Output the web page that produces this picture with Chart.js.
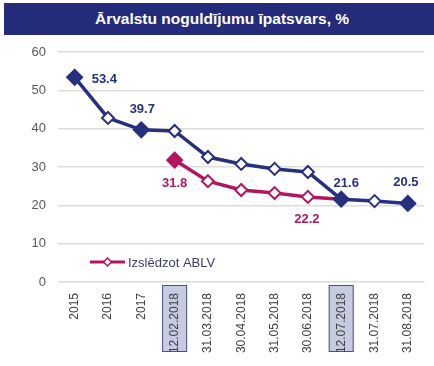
<!DOCTYPE html>
<html lang="lv">
<head>
    <meta charset="UTF-8">
    <title>Ārvalstu noguldījumu īpatsvars</title>
    <script src="https://cdn.jsdelivr.net/npm/chart.js"></script>
    <style>
        body { margin: 0; background: #ffffff; font-family: "Liberation Sans", Arial, sans-serif; }
        #wrap { position: relative; width: 434px; height: 366px; }
        #title {
            position: absolute; left: 4px; top: 3px; width: 430px; height: 32px;
            background: #242b7a; color: #ffffff; font-weight: bold; font-size: 15.5px;
            line-height: 32px; text-align: center; text-indent: 6px;
        }
        canvas { position: absolute; left: 0; top: 0; }
    </style>
</head>
<body>
<div id="wrap">
    <canvas id="chart" width="434" height="366"></canvas>
    <div id="title">Ārvalstu noguldījumu īpatsvars, %</div>
</div>
<script>
    const labels = ['2015', '2016', '2017', '12.02.2018', '31.03.2018', '30.04.2018',
        '31.05.2018', '30.06.2018', '12.07.2018', '31.07.2018', '31.08.2018'];
    const allDeposits = [53.4, 42.8, 39.7, 39.4, 32.6, 30.8, 29.5, 28.7, 21.6, 21.1, 20.5];
    const exclAblv = [null, null, null, 31.8, 26.3, 24.0, 23.2, 22.2, 21.6, null, null];
    const highlighted = [3, 8];
    const legendLabel = 'Izslēdzot ABLV';

    const NAVY = '#27307f';
    const MAGENTA = '#b0175f';

    // filled markers on the labelled points, hollow on the rest
    const navyFilled = [0, 2, 8, 10];
    const magentaFilled = [3];

    // value labels: [dataset, index, dx, dy, align]
    const valueLabels = [
        [0, 0, 17, 2, 'left'],
        [0, 2, 1, -20, 'center'],
        [0, 8, 5, -16, 'center'],
        [0, 10, -2, -21, 'center'],
        [1, 3, 0, 23, 'center'],
        [1, 7, -1, 23, 'center']
    ];

    const boxPlugin = {
        id: 'tickBoxes',
        beforeDraw(chart) {
            const ctx = chart.ctx;
            const x = chart.scales.x;
            ctx.save();
            highlighted.forEach(i => {
                const px = x.getPixelForValue(i);
                ctx.fillStyle = '#c7cbe2';
                ctx.strokeStyle = '#46528f';
                ctx.lineWidth = 1;
                ctx.fillRect(px - 12.5, 285, 25, 67);
                ctx.strokeRect(px - 12, 285.5, 24, 66);
            });
            ctx.restore();
        }
    };

    const labelPlugin = {
        id: 'valueLabels',
        afterDatasetsDraw(chart) {
            const ctx = chart.ctx;
            ctx.save();
            ctx.font = 'bold 13px "Liberation Sans", Arial, sans-serif';
            ctx.textBaseline = 'middle';
            valueLabels.forEach(([d, i, dx, dy, align]) => {
                const pt = chart.getDatasetMeta(d).data[i];
                const v = chart.data.datasets[d].data[i];
                ctx.fillStyle = d === 0 ? NAVY : MAGENTA;
                ctx.textAlign = align;
                ctx.fillText(v.toFixed(1), pt.x + dx, pt.y + dy);
            });

            // legend for the second series
            const lx = 90, ly = 262;
            ctx.strokeStyle = MAGENTA;
            ctx.lineWidth = 3;
            ctx.beginPath();
            ctx.moveTo(lx, ly);
            ctx.lineTo(lx + 35, ly);
            ctx.stroke();
            ctx.fillStyle = '#ffffff';
            ctx.lineWidth = 1.5;
            ctx.beginPath();
            ctx.moveTo(lx + 17.5, ly - 4);
            ctx.lineTo(lx + 21.5, ly);
            ctx.lineTo(lx + 17.5, ly + 4);
            ctx.lineTo(lx + 13.5, ly);
            ctx.closePath();
            ctx.fill();
            ctx.stroke();
            ctx.fillStyle = '#3a3f6a';
            ctx.font = '13px "Liberation Sans", Arial, sans-serif';
            ctx.textAlign = 'left';
            ctx.fillText(legendLabel, lx + 38, ly + 1);
            ctx.restore();
        }
    };

    const ctx = document.getElementById('chart').getContext('2d');
    new Chart(ctx, {
        type: 'line',
        data: {
            labels: labels,
            datasets: [
                {
                    label: 'Kopā',
                    data: allDeposits,
                    borderColor: NAVY,
                    borderWidth: 3.5,
                    pointStyle: 'rectRot',
                    pointRadius: allDeposits.map((v, i) => navyFilled.includes(i) ? 7.5 : 6),
                    pointBackgroundColor: allDeposits.map((v, i) => navyFilled.includes(i) ? NAVY : '#ffffff'),
                    pointBorderColor: NAVY,
                    pointBorderWidth: 2,
                    tension: 0,
                    order: 1
                },
                {
                    label: legendLabel,
                    data: exclAblv,
                    borderColor: MAGENTA,
                    borderWidth: 3.5,
                    pointStyle: 'rectRot',
                    pointRadius: exclAblv.map((v, i) => magentaFilled.includes(i) ? 7.5 : (i === 8 ? 0 : 6)),
                    pointBackgroundColor: exclAblv.map((v, i) => magentaFilled.includes(i) ? MAGENTA : '#ffffff'),
                    pointBorderColor: MAGENTA,
                    pointBorderWidth: 2,
                    tension: 0,
                    order: 2
                }
            ]
        },
        options: {
            responsive: false,
            animation: false,
            layout: { padding: { top: 52, left: 0, right: 0, bottom: 0 } },
            plugins: {
                legend: { display: false },
                tooltip: { enabled: false }
            },
            scales: {
                x: {
                    offset: true,
                    grid: { display: false },
                    border: { display: false },
                    ticks: {
                        color: '#404040',
                        font: { size: 12, family: '"Liberation Sans", Arial, sans-serif' },
                        minRotation: 90,
                        maxRotation: 90,
                        padding: 3,
                        autoSkip: false
                    },
                    afterFit: s => { s.height = 84; }
                },
                y: {
                    min: 0,
                    max: 60,
                    ticks: {
                        stepSize: 10,
                        color: '#595959',
                        padding: 12,
                        font: { size: 13, family: '"Liberation Sans", Arial, sans-serif' }
                    },
                    grid: { color: '#dcdcdc', lineWidth: 1.5, drawTicks: false },
                    border: { display: false },
                    afterFit: s => { s.width = 58; }
                }
            }
        },
        plugins: [boxPlugin, labelPlugin]
    });
</script>
</body>
</html>
